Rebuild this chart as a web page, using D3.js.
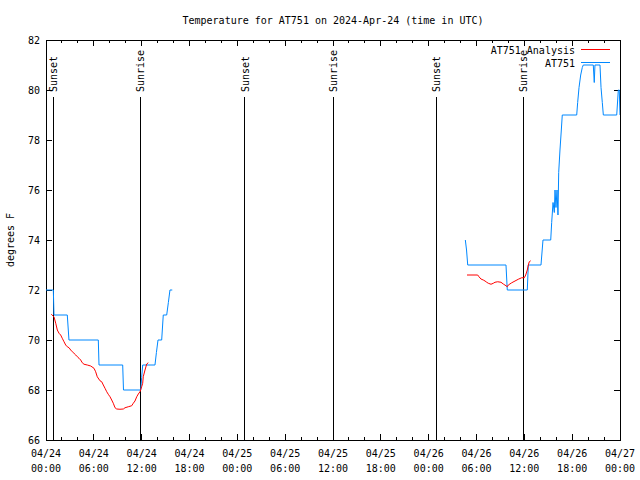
<!DOCTYPE html>
<html><head><meta charset="utf-8">
<script src="https://cdn.jsdelivr.net/npm/d3@7/dist/d3.min.js"></script>
<style>
body{margin:0;background:#fff}
text{font-family:"DejaVu Sans Mono","Liberation Mono",monospace;font-size:10px;fill:#000}
</style>
</head><body>
<svg id="chart" width="640" height="480"></svg>
<script>
// ---------- data ----------
const chartTitle = "Temperature for AT751 on 2024-Apr-24 (time in UTC)";
const yAxisLabel = "degrees F";
const seriesNames = ["AT751 Analysis", "AT751"];
const seriesColors = ["#ff0000", "#0088ff"];

// hours since 2024-04-24 00:00 UTC
const xTickHours = [0, 6, 12, 18, 24, 30, 36, 42, 48, 54, 60, 66, 72];
const xTickDay   = ["04/24","04/24","04/24","04/24","04/25","04/25","04/25","04/25","04/26","04/26","04/26","04/26","04/27"];
const xTickClock = ["00:00","06:00","12:00","18:00","00:00","06:00","12:00","18:00","00:00","06:00","12:00","18:00","00:00"];
const xMinorHours = d3.range(0, 73, 2);
const yTicks = [66, 68, 70, 72, 74, 76, 78, 80, 82];

const sunLabels = ["Sunset", "Sunrise", "Sunset", "Sunrise", "Sunset", "Sunrise"];
const sunHours  = [0.94, 11.85, 24.96, 36.0, 48.92, 59.87];

// observations (AT751), null = gap
const obsHours = [0, 0.92, 1.0, 2.67, 2.88, 6.56, 6.65, 9.62, 9.72, 11.88, 12.0, 12.13, 13.67, 13.85, 14.05, 14.51, 14.71, 15.14, 15.35, 15.55, 15.84,
  null,
  52.60, 52.75, 52.90, 57.70, 57.86, 60.37, 60.50, 62.09, 62.34, 63.31, 63.43, 63.60, 63.76, 63.85, 63.97, 64.10, 64.22, 64.31, 64.47, 64.64, 64.76,
  66.57, 66.69, 66.86, 67.07, 67.27, 67.39, 68.65, 68.77, 68.86, 69.37, 69.49, 69.62, 69.78, 69.91, 71.59, 71.79, 71.91, 72.0];
const obsTemp = [72, 72, 71, 71, 70, 70, 69, 69, 68, 68, 68.5, 69, 69, 69.5, 70, 70, 71, 71, 71.5, 72, 72,
  null,
  74, 73.6, 73, 73, 72, 72, 73, 73, 74, 74, 74.7, 75.5, 75.1, 76, 75.3, 76, 75, 76.7, 77.6, 78.4, 79,
  79, 79.5, 80.1, 80.6, 80.9, 81, 81, 80.3, 81, 81, 81, 80.1, 79.5, 79, 79, 80, 80, 79];

// analysis (AT751 Analysis)
const anaHours = [0.66, 1.0, 1.22, 1.42, 1.63, 1.84, 2.04, 2.26, 2.47, 2.67, 2.89, 3.10, 3.30, 3.51, 3.73, 3.93, 4.14, 4.35, 4.55, 4.77, 5.18, 5.61, 6.02, 6.23, 6.43,
  6.77, 6.99, 7.19, 7.40, 7.62, 7.81, 8.03, 8.24, 8.44, 8.66, 8.87, 9.28, 9.70, 9.91, 10.32, 10.75, 10.95, 11.16, 11.38, 11.58, 11.79, 12.0, 12.13, 12.20, 12.42, 12.63, 12.83,
  null,
  52.81, 54.15, 54.31, 54.56, 54.85, 55.07, 55.28, 55.48, 55.82, 56.11, 56.32, 56.66, 57.07, 57.36, 57.70, 57.86, 57.99, 58.42, 58.83, 59.24, 59.67, 60.0, 60.17, 60.37, 60.50, 60.62, 60.80];
const anaTemp = [71.03, 70.93, 70.67, 70.4, 70.27, 70.2, 70.07, 69.93, 69.8, 69.73, 69.69, 69.6, 69.53, 69.47, 69.4, 69.33, 69.27, 69.2, 69.09, 69.03, 69.0, 68.96, 68.87, 68.73, 68.53,
  68.37, 68.33, 68.2, 68.07, 67.93, 67.83, 67.73, 67.6, 67.47, 67.29, 67.24, 67.23, 67.24, 67.29, 67.33, 67.37, 67.47, 67.56, 67.73, 67.84, 67.93, 68.13, 68.27, 68.53, 68.8, 69.04, 69.09,
  null,
  72.6, 72.6, 72.53, 72.44, 72.4, 72.36, 72.31, 72.27, 72.23, 72.27, 72.31, 72.33, 72.31, 72.24, 72.17, 72.13, 72.2, 72.29, 72.36, 72.43, 72.49, 72.49, 72.6, 72.8, 73.0, 73.13, 73.17];

// ---------- chart ----------
const L = 46, R = 620, T = 40, B = 440;
const svg = d3.select("#chart");
const x = d3.scaleLinear().domain([0, 72]).range([L, R]);
const y = d3.scaleLinear().domain([66, 82]).range([B, T]);

svg.append("defs").append("clipPath").attr("id", "clip")
  .append("rect").attr("x", L).attr("y", T).attr("width", R - L).attr("height", B - T);

// title
svg.append("text").attr("x", (L + R) / 2).attr("y", 24).attr("text-anchor", "middle").text(chartTitle);
// y label
svg.append("text").attr("transform", "translate(14," + ((T + B) / 2) + ") rotate(-90)")
  .attr("text-anchor", "middle").text(yAxisLabel);

const g = svg.append("g").attr("shape-rendering", "crispEdges");

// x ticks (bottom and top, inward)
const majorSet = new Set(xTickHours);
xMinorHours.forEach(h => {
  const len = majorSet.has(h) ? 6 : 3;
  g.append("line").attr("x1", x(h)).attr("x2", x(h)).attr("y1", B).attr("y2", B - len).attr("stroke", "#000");
  g.append("line").attr("x1", x(h)).attr("x2", x(h)).attr("y1", T).attr("y2", T + len).attr("stroke", "#000");
});
xTickHours.forEach((h, i) => {
  svg.append("text").attr("x", x(h)).attr("y", 457).attr("text-anchor", "middle").text(xTickDay[i]);
  svg.append("text").attr("x", x(h)).attr("y", 472).attr("text-anchor", "middle").text(xTickClock[i]);
});
// y ticks
yTicks.forEach(v => {
  g.append("line").attr("x1", L).attr("x2", L + 6).attr("y1", y(v)).attr("y2", y(v)).attr("stroke", "#000");
  g.append("line").attr("x1", R).attr("x2", R - 6).attr("y1", y(v)).attr("y2", y(v)).attr("stroke", "#000");
  svg.append("text").attr("x", L - 6).attr("y", y(v) + 4).attr("text-anchor", "end").text(v);
});

// sun lines
sunHours.forEach((h, i) => {
  g.append("line").attr("x1", x(h)).attr("x2", x(h)).attr("y1", 97).attr("y2", B)
    .attr("stroke", "#000").attr("stroke-width", 1);
  svg.append("text").attr("transform", "translate(" + (x(h) + 4) + ",92) rotate(-90)")
    .attr("text-anchor", "start").text(sunLabels[i]);
});

// series lines
function pts(hs, vs) { return hs.map((h, i) => [h, vs[i]]); }
const line = d3.line().defined(d => d[0] !== null && d[1] !== null).x(d => x(d[0])).y(d => y(d[1]));
const plot = svg.append("g").attr("clip-path", "url(#clip)");
plot.append("path").datum(pts(obsHours, obsTemp)).attr("d", line)
  .attr("fill", "none").attr("stroke", seriesColors[1]).attr("stroke-width", 1);
plot.append("path").datum(pts(anaHours, anaTemp)).attr("d", line)
  .attr("fill", "none").attr("stroke", seriesColors[0]).attr("stroke-width", 1);

// border
g.append("rect").attr("x", L).attr("y", T).attr("width", R - L).attr("height", B - T)
  .attr("fill", "none").attr("stroke", "#000");

// legend
seriesNames.forEach((name, i) => {
  const ly = 49.5 + i * 13;
  svg.append("text").attr("x", 575).attr("y", ly + 4).attr("text-anchor", "end").text(name);
  g.append("line").attr("x1", 581).attr("x2", 610).attr("y1", ly).attr("y2", ly)
    .attr("stroke", seriesColors[i]).attr("stroke-width", 1);
});
</script>
</body></html>
